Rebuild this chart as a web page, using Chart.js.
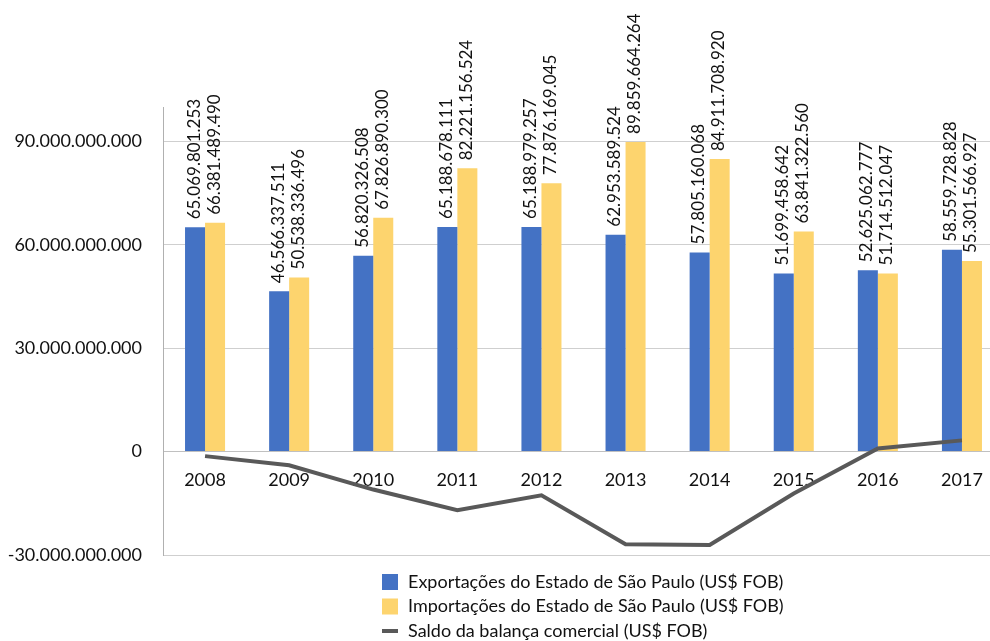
<!DOCTYPE html>
<html>
<head>
<meta charset="utf-8">
<script src="https://cdn.jsdelivr.net/npm/chart.js@4"></script>
<style>
  html, body { margin: 0; padding: 0; background: #fff; overflow: hidden; }
</style>
</head>
<body>
<canvas id="balancaChart" width="1004" height="641" style="width:1004px;height:641px;display:block"></canvas>
<script>
// Chart data
const years = ['2008', '2009', '2010', '2011', '2012', '2013', '2014', '2015', '2016', '2017'];
const exportacoes = [65069801253, 46566337511, 56820326508, 65188678111, 65188979257, 62953589524, 57805160068, 51699458642, 52625062777, 58559728828];
const importacoes = [66381489490, 50538336496, 67826890300, 82221156524, 77876169045, 89859664264, 84911708920, 63841322560, 51714512047, 55301566927];
const saldo = [-1310000000, -3970000000, -11010000000, -17030000000, -12690000000, -26910000000, -27110000000, -12140000000, 910000000, 3260000000];
const yTicks = [-30000000000, 0, 30000000000, 60000000000, 90000000000];

const FONT = 'Lato, "Open Sans", sans-serif';

// 1.234.567 style numbers
function fmt(v) {
    return String(Math.round(v)).replace(/\B(?=(\d{3})+(?!\d))/g, '.');
}

// vertical value labels above the bars
const barLabels = {
    id: 'barLabels',
    afterDatasetsDraw(chart) {
        const ctx = chart.ctx;
        ctx.save();
        ctx.font = '17px ' + FONT;
        ctx.fillStyle = '#111';
        ctx.textAlign = 'left';
        ctx.textBaseline = 'middle';
        chart.data.datasets.forEach((ds, i) => {
            if (ds.type === 'line') return;
            chart.getDatasetMeta(i).data.forEach((bar, j) => {
                ctx.save();
                ctx.translate(bar.x - 1, bar.y - 8);
                ctx.rotate(-Math.PI / 2);
                ctx.fillText(fmt(ds.data[j]), 0, 0);
                ctx.restore();
            });
        });
        ctx.restore();
    }
};

// legend stacked in one column under the chart
const stackedLegend = {
    id: 'stackedLegend',
    afterDraw(chart) {
        const ctx = chart.ctx;
        ctx.save();
        ctx.font = '18px ' + FONT;
        ctx.textBaseline = 'middle';
        chart.data.datasets.forEach((ds, i) => {
            const y = 582 + i * 24.5;
            if (ds.type === 'line') {
                ctx.strokeStyle = ds.borderColor;
                ctx.lineWidth = 4;
                ctx.beginPath();
                ctx.moveTo(382, y);
                ctx.lineTo(398, y);
                ctx.stroke();
            } else {
                ctx.fillStyle = ds.backgroundColor;
                ctx.fillRect(382, y - 8, 16, 16);
            }
            ctx.fillStyle = '#111';
            ctx.fillText(ds.label, 408, y);
        });
        ctx.restore();
    }
};

const ctx = document.getElementById('balancaChart').getContext('2d');
const balancaChart = new Chart(ctx, {
    data: {
        labels: years,
        datasets: [
            {
                type: 'bar',
                label: 'Exportações do Estado de São Paulo (US$ FOB)',
                data: exportacoes,
                backgroundColor: '#4472C4',
                categoryPercentage: 0.476,
                barPercentage: 1,
                order: 1
            },
            {
                type: 'bar',
                label: 'Importações do Estado de São Paulo (US$ FOB)',
                data: importacoes,
                backgroundColor: '#FDD46E',
                categoryPercentage: 0.476,
                barPercentage: 1,
                order: 1
            },
            {
                type: 'line',
                label: 'Saldo da balança comercial (US$ FOB)',
                data: saldo,
                borderColor: '#595959',
                borderWidth: 4,
                pointRadius: 0,
                tension: 0,
                order: 0
            }
        ]
    },
    options: {
        responsive: false,
        animation: false,
        layout: {
            padding: { top: 107, bottom: 86, left: 0, right: 0 }
        },
        plugins: {
            legend: { display: false },
            tooltip: { enabled: false }
        },
        scales: {
            x: {
                position: { y: 0 },
                offset: true,
                grid: { display: false, drawTicks: false },
                border: { color: '#c0c0c0', width: 1 },
                ticks: {
                    color: '#111',
                    padding: 18,
                    maxRotation: 0,
                    font: { family: FONT, size: 18 }
                }
            },
            y: {
                min: -30000000000,
                max: 100000000000,
                afterBuildTicks: (scale) => {
                    scale.ticks = yTicks.map(v => ({ value: v }));
                },
                afterFit: (scale) => { scale.width = 163; },
                grid: { color: '#cfcfcf', drawTicks: false },
                border: { color: '#b0b0b0', width: 1 },
                ticks: {
                    color: '#111',
                    padding: 21,
                    font: { family: FONT, size: 18 },
                    callback: (v) => fmt(v)
                }
            }
        }
    },
    plugins: [barLabels, stackedLegend]
});
</script>
</body>
</html>
